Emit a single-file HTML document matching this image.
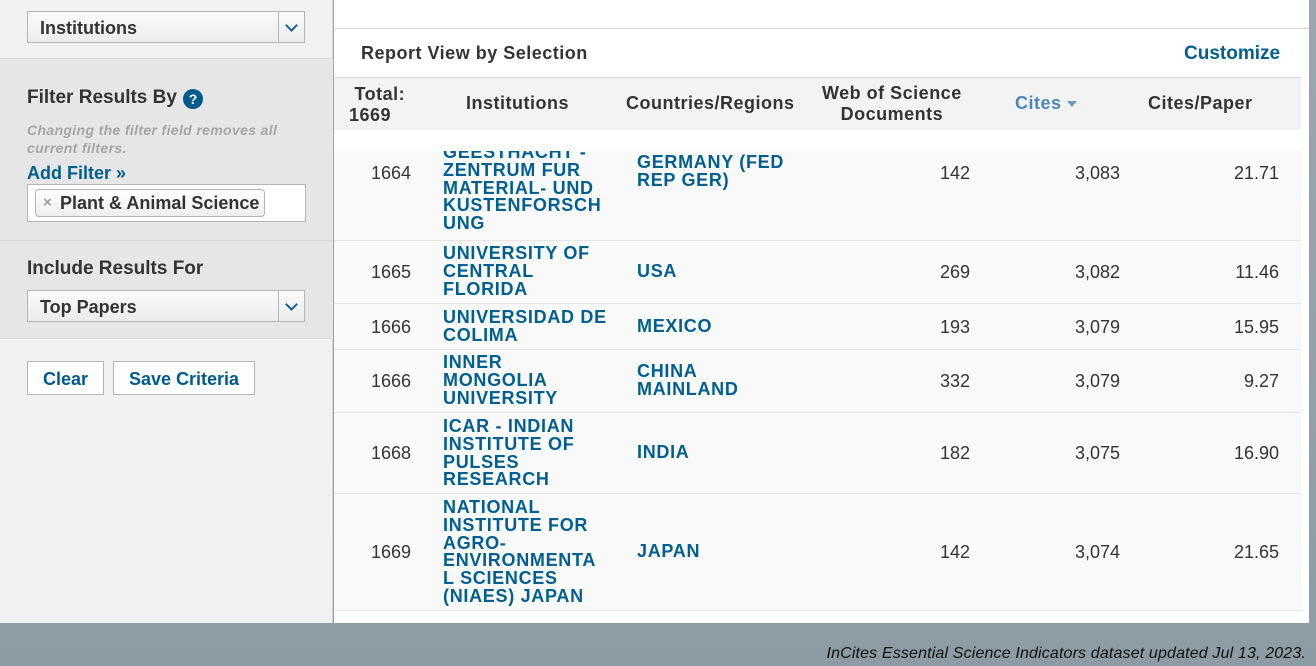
<!DOCTYPE html>
<html><head><meta charset="utf-8"><style>
*{margin:0;padding:0;box-sizing:border-box}
body{width:1316px;height:666px;overflow:hidden;font-family:"Liberation Sans",Arial,sans-serif;background:linear-gradient(#9aa7b0,#8d9ba5);position:relative}
.a{position:absolute}
.side{left:0;top:0;width:333px;height:623px;background:#f1f1f1;border-right:1px solid #d6d6d6}
.sel{position:absolute;left:27px;width:278px;height:32px;border:1px solid #b5b5b5;background:linear-gradient(#fafafa,#ececec);font-weight:bold;font-size:18px;color:#333;padding:6px 12px}
.sel .dd{position:absolute;right:0;top:0;width:26px;height:30px;border-left:1px solid #b5b5b5}
.sel .dd:after{content:"";position:absolute;left:8px;top:9px;width:7px;height:7px;border-right:2px solid #1a5e8a;border-bottom:2px solid #1a5e8a;transform:rotate(45deg)}
.btn{position:absolute;top:361px;height:34px;border:1px solid #b5b5b5;background:#fff;color:#005a8c;font-weight:bold;font-size:18px;padding:7px 15px}
.main{left:334px;top:0;width:975px;height:623px;background:#fff}
.blue{color:#005f8e}
.bt{font-weight:bold;font-size:18px;line-height:17.8px;color:#005f8e;letter-spacing:0.7px}
.num{font-size:18px;color:#333}
.row{position:absolute;left:334px;width:967px;background:#f9f9f9;border-bottom:1px solid #e6e6e6}
.h{font-weight:bold;font-size:18px;color:#333;text-align:center;line-height:21px;letter-spacing:0.5px}
</style></head><body>
<div class="a side"></div>
<div class="a" style="left:0;top:58px;width:333px;height:281px;background:#e6e6e6;border-top:1px solid #d8d8d8;border-bottom:1px solid #d8d8d8"></div>
<div class="a" style="left:0;top:240px;width:333px;height:1px;background:#d8d8d8"></div>
<div class="sel" style="top:11px">Institutions<div class="dd"></div></div>
<div class="a" style="left:27px;top:87px;font-weight:bold;font-size:19px;color:#333">Filter Results By</div>
<div class="a" style="left:183px;top:89px;width:20px;height:20px;border-radius:50%;background:#005a8c;color:#fff;font-weight:bold;font-size:14px;text-align:center;line-height:20px">?</div>
<div class="a" style="left:27px;top:121px;font-style:italic;font-weight:bold;font-size:14px;color:#a5a5a5;line-height:18px;letter-spacing:0.35px">Changing the filter field removes all<br>current filters.</div>
<div class="a blue" style="left:27px;top:163px;font-weight:bold;font-size:18px">Add Filter »</div>
<div class="a" style="left:27px;top:184px;width:279px;height:38px;background:#fff;border:1px solid #b5b5b5"></div>
<div class="a" style="left:35px;top:189px;width:230px;height:28px;border:1px solid #b5b5b5;border-radius:4px;background:linear-gradient(#fff,#eee);font-weight:bold;font-size:18px;color:#333;padding:3px 0 0 24px">Plant &amp; Animal Science</div>
<div class="a" style="left:43px;top:194px;font-weight:bold;font-size:15px;color:#999">×</div>
<div class="a" style="left:27px;top:258px;font-weight:bold;font-size:19px;color:#333">Include Results For</div>
<div class="sel" style="top:290px">Top Papers<div class="dd"></div></div>
<div class="btn" style="left:27px">Clear</div>
<div class="btn" style="left:113px">Save Criteria</div>

<div class="a main"></div>
<div class="a" style="left:334px;top:28px;width:975px;height:1px;background:#d6d6d6"></div>
<div class="a" style="left:361px;top:43px;font-weight:bold;font-size:18px;color:#333;letter-spacing:0.5px">Report View by Selection</div>
<div class="a blue" style="left:1184px;top:43px;font-weight:bold;font-size:19px">Customize</div>
<div class="a" style="left:334px;top:77px;width:967px;height:53px;background:#f3f3f3;border-top:1px solid #d6d6d6"></div>
<div class="a h" style="left:349px;top:84px;text-align:left">&nbsp;Total:<br>1669</div>
<div class="a h" style="left:466px;top:93px">Institutions</div>
<div class="a h" style="left:626px;top:93px">Countries/Regions</div>
<div class="a h" style="left:822px;top:83px">Web of Science<br>Documents</div>
<div class="a h" style="left:1015px;top:93px;color:#4f86b8">Cites <span style="display:inline-block;width:0;height:0;border-left:5px solid transparent;border-right:5px solid transparent;border-top:6px solid #6a9acb;vertical-align:middle"></span></div>
<div class="a h" style="left:1148px;top:93px">Cites/Paper</div>

<div class="row" style="top:151px;height:90px"></div>
<div class="row" style="top:241px;height:63px"></div>
<div class="row" style="top:304px;height:46px"></div>
<div class="row" style="top:350px;height:63px"></div>
<div class="row" style="top:413px;height:81px"></div>
<div class="row" style="top:494px;height:117px"></div>

<div class="a" style="left:334px;top:151px;width:967px;height:90px;overflow:hidden">
<div class="a bt" style="left:109px;top:-7px">GEESTHACHT -<br>ZENTRUM FUR<br>MATERIAL- UND<br>KUSTENFORSCH<br>UNG</div></div>
<div class="a bt" style="left:637px;top:154px">GERMANY (FED<br>REP GER)</div>
<div class="a bt" style="left:443px;top:245px">UNIVERSITY OF<br>CENTRAL<br>FLORIDA</div>
<div class="a bt" style="left:637px;top:263px">USA</div>
<div class="a bt" style="left:443px;top:309px">UNIVERSIDAD DE<br>COLIMA</div>
<div class="a bt" style="left:637px;top:318px">MEXICO</div>
<div class="a bt" style="left:443px;top:354px">INNER<br>MONGOLIA<br>UNIVERSITY</div>
<div class="a bt" style="left:637px;top:363px">CHINA<br>MAINLAND</div>
<div class="a bt" style="left:443px;top:418px">ICAR - INDIAN<br>INSTITUTE OF<br>PULSES<br>RESEARCH</div>
<div class="a bt" style="left:637px;top:444px">INDIA</div>
<div class="a bt" style="left:443px;top:499px">NATIONAL<br>INSTITUTE FOR<br>AGRO-<br>ENVIRONMENTA<br>L SCIENCES<br>(NIAES) JAPAN</div>
<div class="a bt" style="left:637px;top:543px">JAPAN</div>

<div class="a num" style="left:371px;top:163px">1664</div>
<div class="a num" style="left:371px;top:262px">1665</div>
<div class="a num" style="left:371px;top:317px">1666</div>
<div class="a num" style="left:371px;top:371px">1666</div>
<div class="a num" style="left:371px;top:443px">1668</div>
<div class="a num" style="left:371px;top:542px">1669</div>

<div class="a num" style="right:346px;top:163px">142</div>
<div class="a num" style="right:346px;top:262px">269</div>
<div class="a num" style="right:346px;top:317px">193</div>
<div class="a num" style="right:346px;top:371px">332</div>
<div class="a num" style="right:346px;top:443px">182</div>
<div class="a num" style="right:346px;top:542px">142</div>

<div class="a num" style="right:196px;top:163px">3,083</div>
<div class="a num" style="right:196px;top:262px">3,082</div>
<div class="a num" style="right:196px;top:317px">3,079</div>
<div class="a num" style="right:196px;top:371px">3,079</div>
<div class="a num" style="right:196px;top:443px">3,075</div>
<div class="a num" style="right:196px;top:542px">3,074</div>

<div class="a num" style="right:37px;top:163px">21.71</div>
<div class="a num" style="right:37px;top:262px">11.46</div>
<div class="a num" style="right:37px;top:317px">15.95</div>
<div class="a num" style="right:37px;top:371px">9.27</div>
<div class="a num" style="right:37px;top:443px">16.90</div>
<div class="a num" style="right:37px;top:542px">21.65</div>

<div class="a" style="right:10px;top:645px;font-style:italic;font-size:16px;color:#111;letter-spacing:0.15px">InCites Essential Science Indicators dataset updated Jul 13, 2023.</div>
</body></html>
